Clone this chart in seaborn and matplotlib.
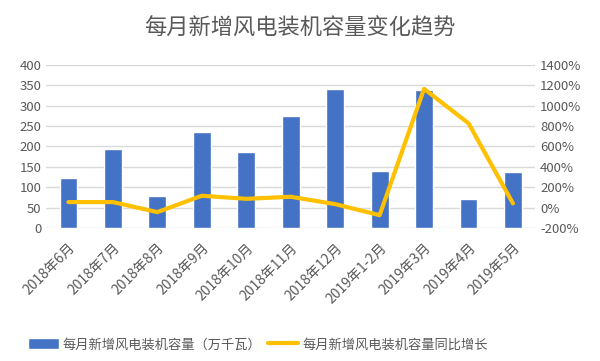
import pandas as pd
import matplotlib
matplotlib.use("Agg")
import matplotlib.pyplot as plt
import seaborn as sns
from matplotlib.patches import Patch
from matplotlib.lines import Line2D
from matplotlib.ticker import FuncFormatter

# Data
months = ["2018年6月", "2018年7月", "2018年8月", "2018年9月", "2018年10月", "2018年11月",
          "2018年12月", "2019年1-2月", "2019年3月", "2019年4月", "2019年5月"]
capacity = [123, 194, 79, 236, 187, 275, 341, 140, 339, 72, 138]          # 万千瓦
yoy_growth = [55, 55, -43, 117, 87, 107, 35, -73, 1163, 826, 42]           # %

bar_label = "每月新增风电装机容量（万千瓦）"
line_label = "每月新增风电装机容量同比增长"

bar_color = "#4472C4"
line_color = "#FFC000"
text_color = "#595959"
grid_color = "#D9D9D9"


def main():
    df = pd.DataFrame({"month": months, "capacity": capacity, "yoy": yoy_growth})
    df["pos"] = range(len(df))

    sns.set_style("white")
    plt.rcParams["font.family"] = ["Noto Sans CJK SC", "DejaVu Sans"]

    fig = plt.figure(figsize=(6, 3.61), dpi=100)
    ax = fig.add_axes([0.077, 0.368, 0.815, 0.453])

    sns.barplot(data=df, x="month", y="capacity", color=bar_color, width=0.4,
                saturation=1, ax=ax, zorder=2)
    ax.set_ylim(0, 400)
    ax.set_yticks(range(0, 401, 50))
    ax.set_xlim(-0.5, len(months) - 0.5)
    ax.grid(axis="y", color=grid_color, linewidth=1, zorder=0)
    ax.set_axisbelow(True)

    ax2 = ax.twinx()
    sns.lineplot(data=df, x="pos", y="yoy", color=line_color, linewidth=3, ax=ax2)
    ax2.set_ylim(-200, 1400)
    ax2.set_yticks(range(-200, 1401, 200))
    ax2.yaxis.set_major_formatter(FuncFormatter(lambda v, p: f"{int(v)}%"))
    ax2.set_xlim(-0.5, len(months) - 0.5)

    for a in (ax, ax2):
        for s in a.spines.values():
            s.set_visible(False)
        a.set_xlabel("")
        a.set_ylabel("")
        a.tick_params(length=0, colors=text_color, labelsize=9.5)

    ax.set_xticks(range(len(months)))
    ax.set_xticklabels(months, rotation=45, ha="right", rotation_mode="anchor", fontsize=10)
    ax.tick_params(axis="x", pad=9)

    fig.suptitle("每月新增风电装机容量变化趋势", y=0.955, fontsize=16, color=text_color)

    handles = [Patch(facecolor=bar_color, label=bar_label),
               Line2D([0], [0], color=line_color, linewidth=3, label=line_label)]
    fig.legend(handles=handles, loc="center", bbox_to_anchor=(0.43, 0.045), ncol=2,
               frameon=False, fontsize=9.5, labelcolor=text_color,
               handlelength=2.3, handleheight=0.9, handletextpad=0.3, columnspacing=0.5)

    fig.savefig("out.png", dpi=100)
    plt.close(fig)


if __name__ == "__main__":
    main()
